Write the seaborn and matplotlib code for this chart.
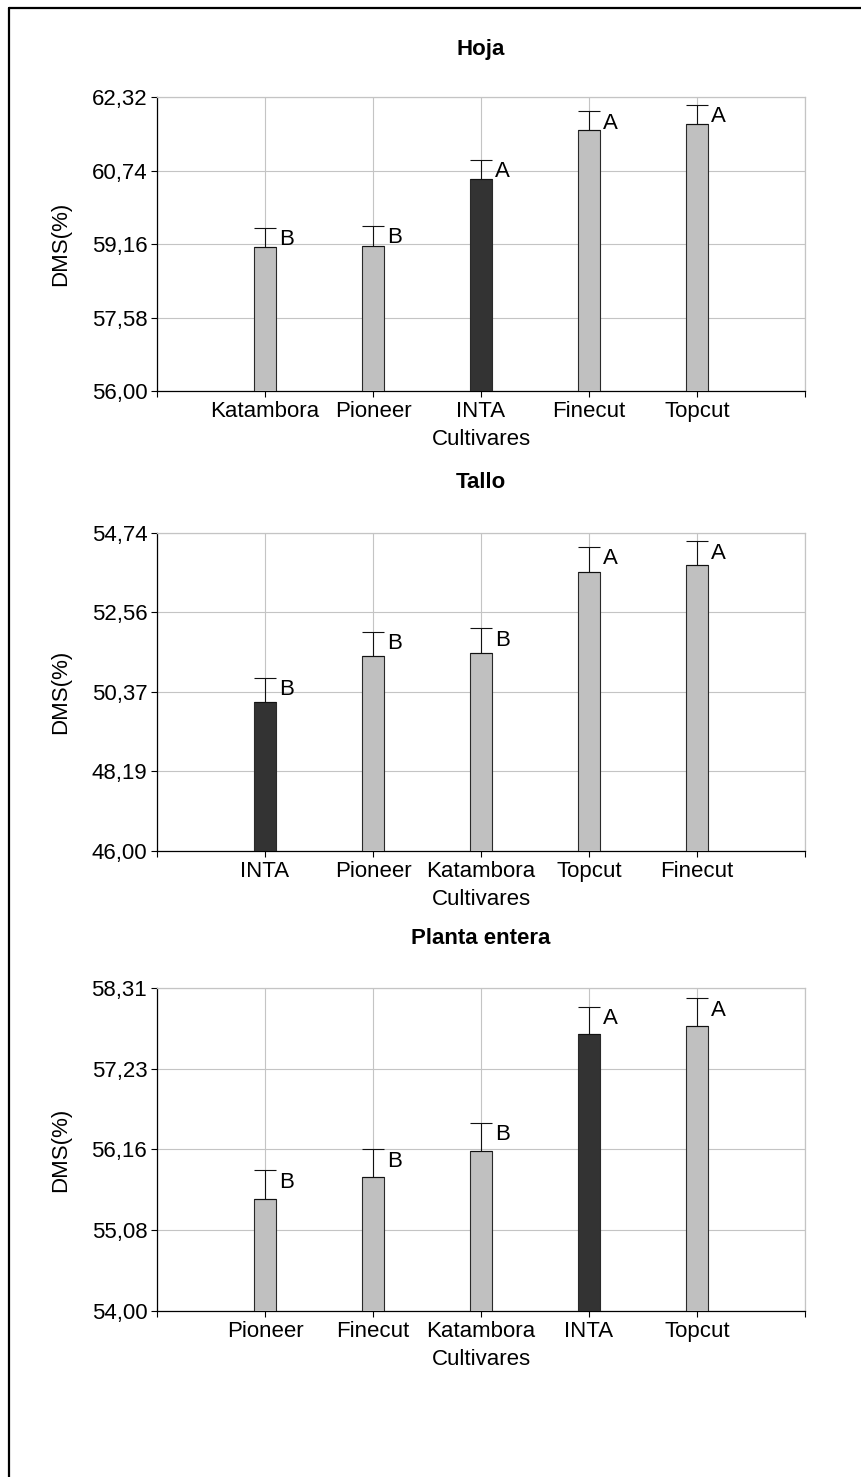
import matplotlib
matplotlib.use("Agg")
import matplotlib.pyplot as plt
import seaborn as sns
import pandas as pd
from matplotlib.lines import Line2D

# ---------------- data ----------------
hoja_cultivars = ["Katambora", "Pioneer", "INTA", "Finecut", "Topcut"]
hoja_means = [59.10, 59.12, 60.56, 61.60, 61.74]
hoja_errors = [0.41, 0.43, 0.41, 0.41, 0.41]
hoja_letters = ["B", "B", "A", "A", "A"]
hoja_ticks = [56.00, 57.58, 59.16, 60.74, 62.32]
hoja_ticklabels = ["56,00", "57,58", "59,16", "60,74", "62,32"]

tallo_cultivars = ["INTA", "Pioneer", "Katambora", "Topcut", "Finecut"]
tallo_means = [50.09, 51.36, 51.44, 53.68, 53.85]
tallo_errors = [0.67, 0.67, 0.68, 0.68, 0.67]
tallo_letters = ["B", "B", "B", "A", "A"]
tallo_ticks = [46.00, 48.185, 50.37, 52.555, 54.74]
tallo_ticklabels = ["46,00", "48,19", "50,37", "52,56", "54,74"]

planta_cultivars = ["Pioneer", "Finecut", "Katambora", "INTA", "Topcut"]
planta_means = [55.49, 55.79, 56.13, 57.69, 57.80]
planta_errors = [0.39, 0.37, 0.38, 0.37, 0.37]
planta_letters = ["B", "B", "B", "A", "A"]
planta_ticks = [54.00, 55.0775, 56.155, 57.2325, 58.31]
planta_ticklabels = ["54,00", "55,08", "56,16", "57,23", "58,31"]

titles = ["Hoja", "Tallo", "Planta entera"]
x_label = "Cultivares"
y_label = "DMS(%)"

# ---------------- style ----------------
sns.set_style("white")
plt.rcParams["font.family"] = ["Liberation Sans", "DejaVu Sans"]
for key in ["text.color", "axes.labelcolor", "xtick.color", "ytick.color"]:
    plt.rcParams[key] = "black"
FS = 16
GRID = "#C4C4C4"
palette = {c: "#C0C0C0" for c in ["Katambora", "Pioneer", "Finecut", "Topcut"]}
palette["INTA"] = "#333333"

W, H = 861, 1477
fig = plt.figure(figsize=(W / 100, H / 100), dpi=100)

# panel boxes in pixels: (left, top, right, bottom)
boxes = [(157, 97, 805, 391), (157, 533, 805, 851), (157, 988, 805, 1311)]
title_y = [50, 482, 939]

panels = [
    (hoja_cultivars, hoja_means, hoja_errors, hoja_letters, hoja_ticks, hoja_ticklabels),
    (tallo_cultivars, tallo_means, tallo_errors, tallo_letters, tallo_ticks, tallo_ticklabels),
    (planta_cultivars, planta_means, planta_errors, planta_letters, planta_ticks, planta_ticklabels),
]

for k, ((cult, means, errs, letters, ticks, ticklabels), box) in enumerate(zip(panels, boxes)):
    l, t, r, b = box
    ax = fig.add_axes([l / W, 1 - b / H, (r - l) / W, (b - t) / H])
    df = pd.DataFrame({"Cultivar": cult, "DMS": means})
    sns.barplot(data=df, x="Cultivar", y="DMS", hue="Cultivar", palette=palette,
                order=cult, hue_order=cult, width=0.2, saturation=1,
                edgecolor="#2a2a2a", linewidth=0.8, errorbar=None, legend=False,
                ax=ax, zorder=3)
    pos = list(range(len(cult)))
    ax.errorbar(pos, means, yerr=[[0] * len(errs), errs], fmt="none",
                ecolor="#111111", elinewidth=0.8, capsize=7.9, capthick=0.8, zorder=4)
    for x, m, e, letter in zip(pos, means, errs, letters):
        ax.annotate(letter, xy=(x + 0.1, m + e), xytext=(2.5, -12.6),
                    textcoords="offset points", ha="left", va="baseline",
                    fontsize=FS, color="black", zorder=5)
    ax.set_xlim(-1, len(cult))
    ax.set_xticks(list(range(-1, len(cult) + 1)))
    ax.set_xticklabels([""] + cult + [""], fontsize=FS)
    ax.set_ylim(ticks[0], ticks[-1])
    ax.set_yticks(ticks)
    ax.set_yticklabels(ticklabels, fontsize=FS)
    ax.grid(True, color=GRID, linewidth=0.8, zorder=0)
    ax.set_axisbelow(True)
    for side in ["top", "right"]:
        ax.spines[side].set_color(GRID)
        ax.spines[side].set_linewidth(0.9)
    for side in ["left", "bottom"]:
        ax.spines[side].set_color("black")
        ax.spines[side].set_linewidth(0.9)
    ax.tick_params(axis="both", direction="out", length=4.5, width=0.8,
                   color="black", labelcolor="black", pad=2.5, bottom=True, left=True)
    ax.set_xlabel(x_label, fontsize=FS, labelpad=5.5)
    ax.set_ylabel(y_label, fontsize=FS)
    ax.yaxis.set_label_coords(-0.133, 0.5)
    fig.text(((l + r) / 2) / W, 1 - title_y[k] / H, titles[k], ha="center",
             va="center", fontsize=FS, fontweight="bold")

# outer frame (left and top edges visible)
fx = 8.5 / W
fy = 1 - 7.5 / H
fig.add_artist(Line2D([fx, fx], [0, fy], transform=fig.transFigure, color="black", linewidth=1.6))
fig.add_artist(Line2D([fx, 1], [fy, fy], transform=fig.transFigure, color="black", linewidth=1.6))

fig.savefig("out.png", dpi=100)
